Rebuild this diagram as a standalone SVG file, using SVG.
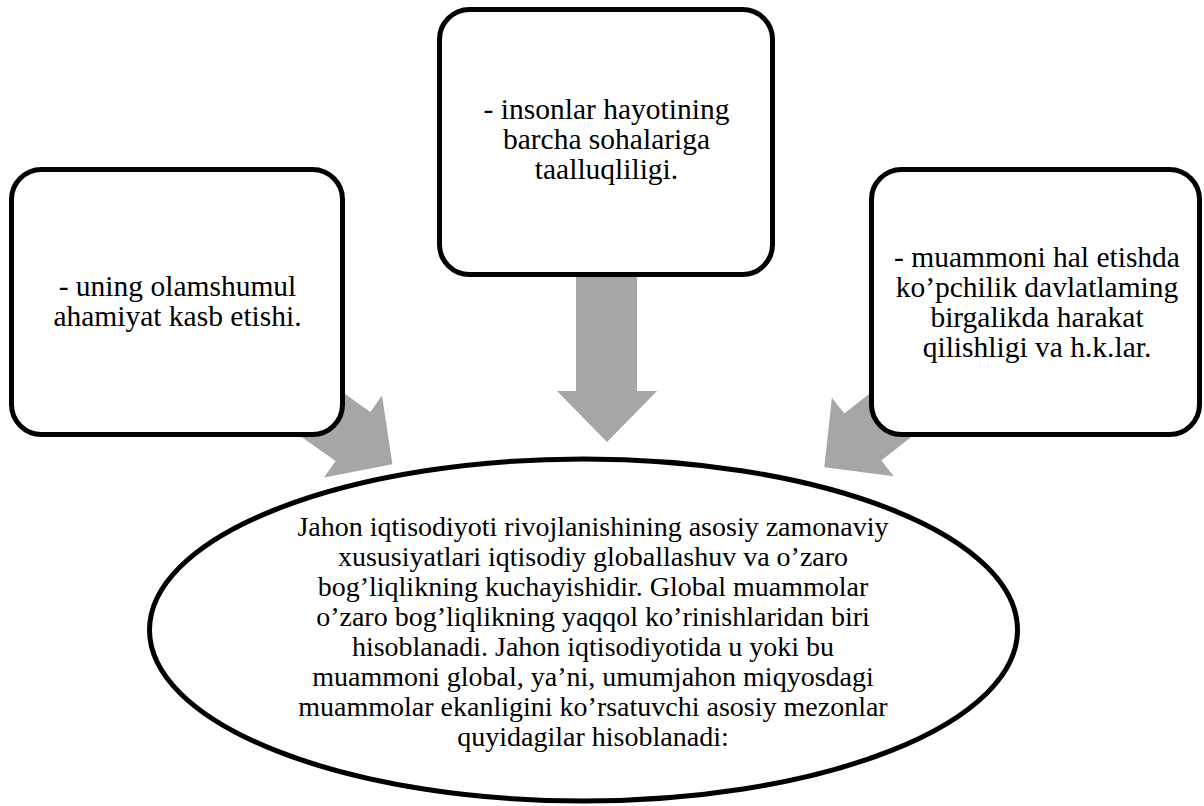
<svg xmlns="http://www.w3.org/2000/svg" width="1204" height="806" viewBox="0 0 1204 806">
<style>
.box{fill:#fff;stroke:#000;stroke-width:5}
.arr{fill:#a6a6a6;stroke:none}
.t{font-family:"Liberation Serif","Times New Roman",serif;fill:#000;text-anchor:middle}
.tb{font-size:29.5px}
.te{font-size:28px}
</style>
<rect width="1204" height="806" fill="#fff"/>
<g id="connectors">
<polygon class="arr" points="576,260 637,260 637,391 657,391 607,442 557,391 576,391"/>
<polygon class="arr" points="272,342 370.4,411.9 382,395.5 392.4,464.3 324,477.5 335.6,461.1 237,391.5"/>
<polygon class="arr" points="938.6,339.2 844.3,413.4 831.9,397.7 824.3,467.3 893.7,476.3 881.3,460.6 975.6,386.4"/>
</g>
<g id="node-left">
<rect class="box" x="11.5" y="169.5" width="331" height="265" rx="30" ry="30"/>
<text class="t tb" x="177.5" y="296">- uning olamshumul</text>
<text class="t tb" x="177.5" y="326">ahamiyat kasb etishi.</text>
</g>
<g id="node-top">
<rect class="box" x="439.5" y="9.5" width="333" height="265" rx="30" ry="30"/>
<text class="t tb" x="606.5" y="119">- insonlar hayotining</text>
<text class="t tb" x="606.5" y="149">barcha sohalariga</text>
<text class="t tb" x="606.5" y="179">taalluqliligi.</text>
</g>
<g id="node-right">
<rect class="box" x="871.5" y="169.5" width="328" height="265" rx="30" ry="30"/>
<text class="t tb" x="1037" y="267">- muammoni hal etishda</text>
<text class="t tb" x="1037" y="297">ko’pchilik davlatlaming</text>
<text class="t tb" x="1037" y="327">birgalikda harakat</text>
<text class="t tb" x="1037" y="357">qilishligi va h.k.lar.</text>
</g>
<g id="node-center">
<ellipse class="box" cx="583.5" cy="630" rx="434" ry="171"/>
<text class="t te" x="593" y="536">Jahon iqtisodiyoti rivojlanishining asosiy zamonaviy</text>
<text class="t te" x="593" y="566">xususiyatlari iqtisodiy globallashuv va o’zaro</text>
<text class="t te" x="593" y="596">bog’liqlikning kuchayishidir. Global muammolar</text>
<text class="t te" x="593" y="626">o’zaro bog’liqlikning yaqqol ko’rinishlaridan biri</text>
<text class="t te" x="593" y="656">hisoblanadi. Jahon iqtisodiyotida u yoki bu</text>
<text class="t te" x="593" y="686">muammoni global, ya’ni, umumjahon miqyosdagi</text>
<text class="t te" x="593" y="716">muammolar ekanligini ko’rsatuvchi asosiy mezonlar</text>
<text class="t te" x="593" y="746">quyidagilar hisoblanadi:</text>
</g>
</svg>
